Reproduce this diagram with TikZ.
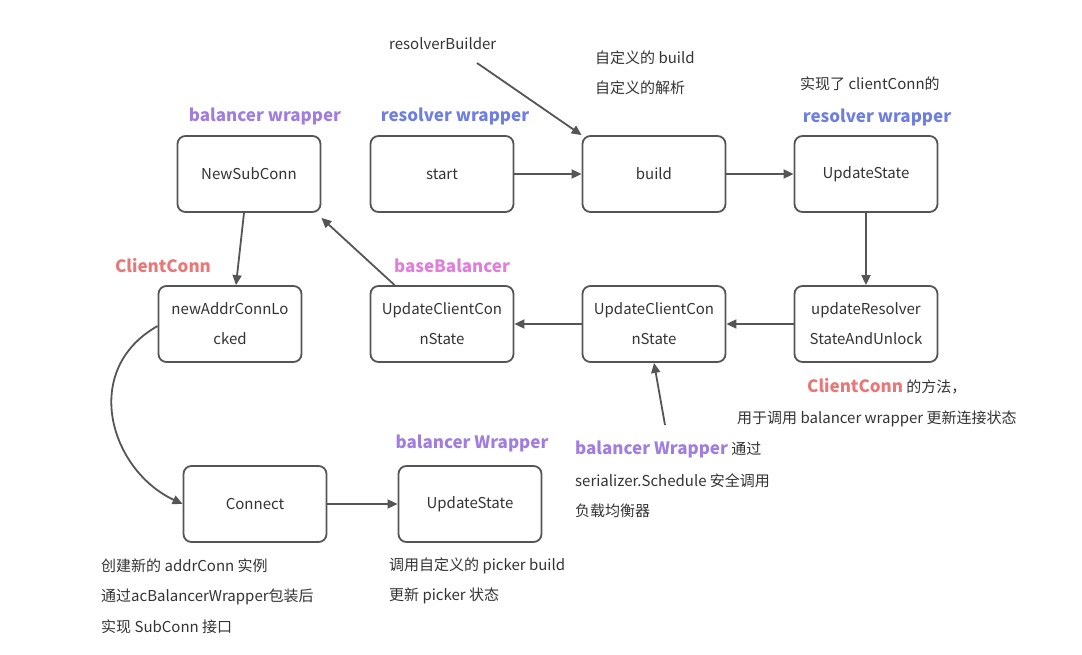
\documentclass[tikz,border=0pt]{standalone}
\usepackage{fontspec}
\setmainfont{Noto Sans CJK SC}
\usetikzlibrary{arrows.meta}
\definecolor{ln}{HTML}{555555}
\definecolor{pur}{HTML}{A07EE0}
\definecolor{blu}{HTML}{6F7FE0}
\definecolor{red}{HTML}{E87878}
\definecolor{pnk}{HTML}{E07EDC}
\definecolor{txt}{HTML}{333333}
\begin{document}
\begin{tikzpicture}[x=1pt,y=-1pt,
  box/.style={draw=ln,line width=1.8pt,rounded corners=8pt,minimum width=143pt,minimum height=76pt,align=center,text=txt,font=\fontsize{15}{30}\selectfont},
  ar/.style={draw=ln,line width=1.8pt,-{Triangle[length=10pt,width=9pt]}},
  t/.style={anchor=west,text=txt,font=\fontsize{15}{18}\selectfont,inner sep=0pt},
  lb/.style={anchor=center,font=\bfseries\fontsize{17}{20}\selectfont,inner sep=0pt}]
\useasboundingbox (0,0) rectangle (1082,655);
\node[box] (nsc) at (249,174) {NewSubConn};
\node[box] (start) at (442,174) {start};
\node[box] (build) at (654,174) {build};
\node[box] (us1) at (866,174) {UpdateState};
\node[box] (nacl) at (230,324) {newAddrConnLo\\cked};
\node[box] (ucl) at (442,324) {UpdateClientCon\\nState};
\node[box] (ucm) at (654,324) {UpdateClientCon\\nState};
\node[box] (ursu) at (866,324) {updateResolver\\StateAndUnlock};
\node[box] (conn) at (255,504) {Connect};
\node[box] (us2) at (470,504) {UpdateState};

\node[lb,text=pur] (l1) at (265,116) {balancer wrapper};
\node[lb,text=blu] (l2) at (455,116) {resolver wrapper};
\node[lb,text=blu] (l3) at (877,117) {resolver wrapper};
\node[lb,text=red] (l4) at (163,266) {ClientConn};
\node[lb,text=pnk] (l5) at (452,266) {baseBalancer};
\node[lb,text=pur] (l6) at (472,443) {balancer Wrapper};

\node[t] (rb) at (389,44) {resolverBuilder};
\coordinate (rbs) at (477,63);
\node[t] (c1) at (595,58) {自定义的 build};
\node[t] (c2) at (595,88) {自定义的解析};
\node[t] (c3) at (800,84) {实现了 clientConn的};
\node[t] (c4) at (807,386) {\textcolor{red}{\bfseries\fontsize{17}{20}\selectfont ClientConn} 的方法，};
\node[t] (c5) at (737,419) {用于调用 balancer wrapper 更新连接状态};
\node[t] (c6) at (575,449) {\textcolor{pur}{\bfseries\fontsize{17}{20}\selectfont balancer Wrapper} 通过};
\node[t] (c7) at (575,481) {serializer.Schedule 安全调用};
\node[t] (c8) at (575,511) {负载均衡器};
\coordinate (c6s) at (665,425);
\node[t] (d1) at (101,566) {创建新的 addrConn 实例};
\node[t] (d2) at (101,597) {通过acBalancerWrapper包装后};
\node[t] (d3) at (101,627) {实现 SubConn 接口};
\node[t] (e1) at (389,566) {调用自定义的 picker build};
\node[t] (e2) at (389,596) {更新 picker 状态};

\draw[ar] (rbs) -- (build.north west);
\draw[ar] (start) -- (build);
\draw[ar] (build) -- (us1);
\draw[ar] (us1) -- (ursu);
\draw[ar] (ursu) -- (ucm);
\draw[ar] (ucm) -- (ucl);
\draw[ar] (ucl.north west)++(25,0) -- ([yshift=-5pt]nsc.south east);
\draw[ar] ([xshift=-5pt]nsc.south) -- ([xshift=6pt]nacl.north);
\draw[ar] ([yshift=-2pt]nacl.west) .. controls (80,370) and (110,470) .. (conn.west);
\draw[ar] (conn) -- (us2);
\draw[ar] (c6s) -- (ucm.south);
\end{tikzpicture}
\end{document}
